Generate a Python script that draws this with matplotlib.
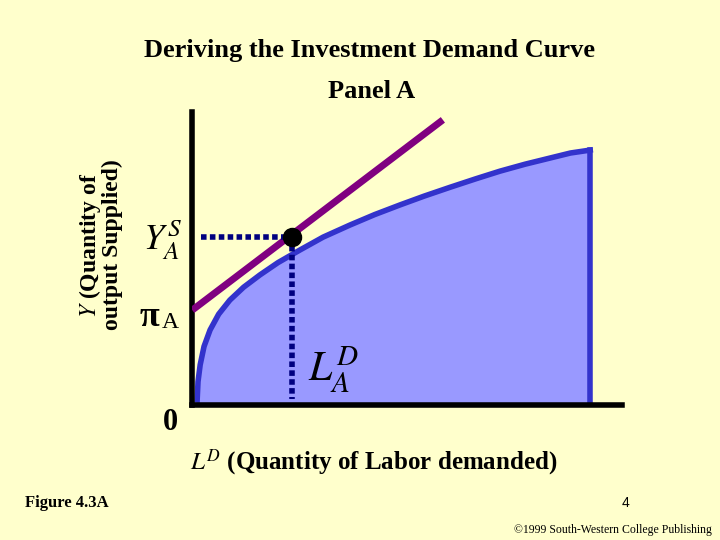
import matplotlib
matplotlib.use('Agg')
import matplotlib.pyplot as plt

plt.rcParams['mathtext.fontset'] = 'stix'

# production curve (labor, output)
labor = [0.12, 0.14, 0.19, 0.28, 0.42, 0.62, 0.88, 1.2, 1.58, 2.0, 2.51, 3.05, 3.67, 4.25, 4.84,
         5.4, 6.0, 6.6, 7.16, 7.75, 8.33, 8.8, 9.26]
output = [0.17, 0.8, 1.37, 2.0, 2.56, 3.1, 3.58, 4.02, 4.44, 4.86, 5.29, 5.73, 6.14, 6.5, 6.83,
          7.13, 7.43, 7.72, 7.98, 8.22, 8.43, 8.6, 8.70]
tangent_x = [0.07, 5.77]
tangent_y = [3.31, 9.66]
point_x, point_y = 2.33, 5.73

bg = '#FFFFCC'
fig = plt.figure(figsize=(7.2, 5.4), dpi=100, facecolor=bg)
ax = fig.add_axes([192/720, 135/540, 430/720, 293/540])
ax.set_facecolor(bg)
ax.set_xlim(0, 10)
ax.set_ylim(0, 10)

ax.fill_between(labor + [labor[-1]], output + [0], 0, color='#9999FF', zorder=1)
ax.plot(labor, output, color='#3333CC', lw=4, zorder=2, solid_joinstyle='round')
ax.plot([labor[-1], labor[-1]], [output[-1], 0], color='#3333CC', lw=4, zorder=2)
ax.plot(tangent_x, tangent_y, color='#800080', lw=5, zorder=3)
ax.plot([0.2, point_x], [point_y, point_y], color='#000080', lw=4, ls=(0, (1, 0.6)), zorder=4)
ax.plot([point_x, point_x], [point_y, 0.2], color='#000080', lw=4, ls=(0, (1, 0.6)), zorder=4)
ax.plot(point_x, point_y, 'o', color='black', ms=13, zorder=5)

for s in ['top', 'right']:
    ax.spines[s].set_visible(False)
for s in ['left', 'bottom']:
    ax.spines[s].set_linewidth(4)
ax.set_xticks([])
ax.set_yticks([])

serif = 'Liberation Serif'
fig.text(370/720, 1 - 50/540, 'Deriving the Investment Demand Curve', ha='center', va='center',
         fontsize=19, fontweight='bold', family=serif)
fig.text(372/720, 1 - 92/540, 'Panel A', ha='center', va='center', fontsize=19, fontweight='bold', family=serif)
fig.text(100/720, 1 - 245/540, r'$\it{Y}$ (Quantity of' + '\noutput Supplied)', ha='center', va='center',
         rotation=90, fontsize=17, fontweight='bold', family=serif, linespacing=0.9)
fig.text(143/720, 1 - 240/540, r'$Y_A^S$', ha='left', va='center', fontsize=26)
fig.text(140/720, 1 - 318/540, 'π', ha='left', va='center', fontsize=26, fontweight='bold', family=serif)
fig.text(162/720, 1 - 322/540, 'A', ha='left', va='center', fontsize=17, family=serif)
fig.text(308/720, 1 - 370/540, r'$L_A^D$', ha='left', va='center', fontsize=30)
fig.text(170/720, 1 - 422/540, '0', ha='center', va='center', fontsize=22, fontweight='bold', family=serif)
fig.text(190/720, 1 - 463/540, r'$L^D$ (Quantity of Labor demanded)', ha='left', va='center',
         fontsize=18, fontweight='bold', family=serif)
fig.text(25/720, 1 - 503/540, 'Figure 4.3A', ha='left', va='center', fontsize=12, fontweight='bold', family=serif)
fig.text(625/720, 1 - 503/540, '4', ha='center', va='center', fontsize=10, family='Liberation Sans')
fig.text(712/720, 1 - 530/540, '©1999 South-Western College Publishing', ha='right', va='center',
         fontsize=8.5, family=serif)

fig.savefig('out.png', dpi=100, facecolor=bg)
